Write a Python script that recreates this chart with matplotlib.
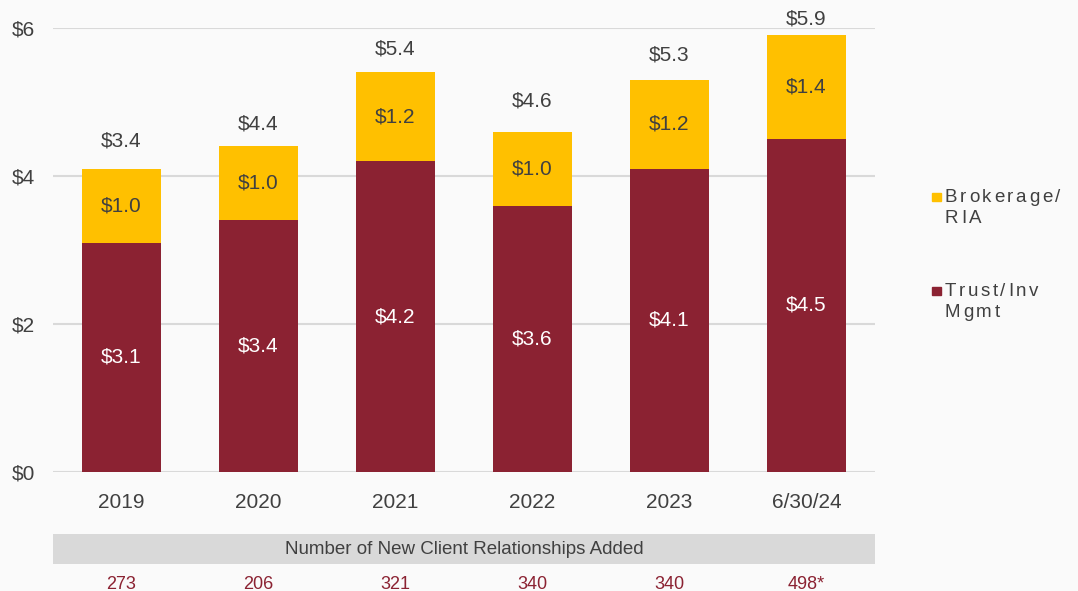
import matplotlib.pyplot as plt
from matplotlib.patches import Rectangle

# data
periods = ['2019', '2020', '2021', '2022', '2023', '6/30/24']
trust = [3.1, 3.4, 4.2, 3.6, 4.1, 4.5]
brokerage = [1.0, 1.0, 1.2, 1.0, 1.2, 1.4]
total_labels = ['$3.4', '$4.4', '$5.4', '$4.6', '$5.3', '$5.9']
new_clients = ['273', '206', '321', '340', '340', '498*']

# hand-placed label gaps above each bar (points), as in the original slide
total_gap_pt = [19.8, 16.0, 16.6, 21.8, 18.0, 11.5]

maroon = '#8B2232'
gold = '#FFC000'
txt = '#404040'
bg = '#FAFAFA'
W, H = 1078, 591

plt.rcParams['font.family'] = ['Liberation Sans', 'DejaVu Sans']

fig = plt.figure(figsize=(W / 100, H / 100), dpi=100, facecolor=bg)
ax = fig.add_axes([53 / W, 1 - 472 / H, 822 / W, 444 / H])
ax.set_facecolor(bg)

x = range(len(periods))
w = 0.58
tops = [t + b for t, b in zip(trust, brokerage)]
ax.bar(x, trust, width=w, color=maroon, zorder=3)
ax.bar(x, brokerage, width=w, bottom=trust, color=gold, zorder=3)

for i in x:
    ax.text(i, trust[i] / 2, '$%.1f' % trust[i], ha='center', va='center',
            color='white', fontsize=15, zorder=4)
    ax.text(i, trust[i] + brokerage[i] / 2, '$%.1f' % brokerage[i], ha='center',
            va='center', color=txt, fontsize=15, zorder=4)
    ax.annotate(total_labels[i], (i, tops[i]), xytext=(0, total_gap_pt[i]),
                textcoords='offset points', ha='center', va='center', color=txt,
                fontsize=15, annotation_clip=False)

ax.set_xlim(-0.5, len(periods) - 0.5)
ax.set_ylim(0, 6)
ax.set_yticks([0, 2, 4, 6])
ax.set_yticklabels(['$0', '$2', '$4', '$6'])
ax.set_xticks(list(x))
ax.set_xticklabels(periods)
ax.tick_params(length=0, labelsize=15, labelcolor=txt)
ax.tick_params(axis='x', pad=15)
ax.tick_params(axis='y', pad=13)
ax.yaxis.grid(True, color='#D9D9D9', linewidth=1.5, zorder=0)
for s in ax.spines.values():
    s.set_visible(False)

# client relationships banner
band = fig.add_axes([53 / W, 1 - 564 / H, 822 / W, 30 / H])
band.set_facecolor('#D9D9D9')
band.set_xlim(-0.5, len(periods) - 0.5)
band.set_ylim(0, 1)
band.set_xticks([])
band.set_yticks([])
for s in band.spines.values():
    s.set_visible(False)
band.text(2.5, 0.5, 'Number of New Client Relationships Added', ha='center',
          va='center', color=txt, fontsize=13.5)
for i in x:
    band.text(i, -0.68, new_clients[i], ha='center', va='center', color=maroon,
              fontsize=13, clip_on=False)

# legend: letter-spaced labels next to small squares
renderer = fig.canvas.get_renderer()


def spaced_text(x_px, base_px, s, gap_px, size=13.5):
    xp = x_px
    for ch in s:
        t = fig.text(xp / W, 1 - base_px / H, ch, ha='left', va='baseline',
                     color=txt, fontsize=size)
        xp += t.get_window_extent(renderer).width + gap_px
        if ch == ' ':
            xp += 3


legend_items = [('Brokerage/', 'RIA', gold, 202), ('Trust/Inv', 'Mgmt', maroon, 296)]
for line1, line2, col, base in legend_items:
    fig.add_artist(Rectangle((932 / W, 1 - (base - 1) / H), 9 / W, 8 / H,
                             transform=fig.transFigure, color=col))
    spaced_text(945, base, line1, 2.6)
    spaced_text(945, base + 21, line2, 2.6)

fig.savefig('out.png', dpi=100, facecolor=bg)
